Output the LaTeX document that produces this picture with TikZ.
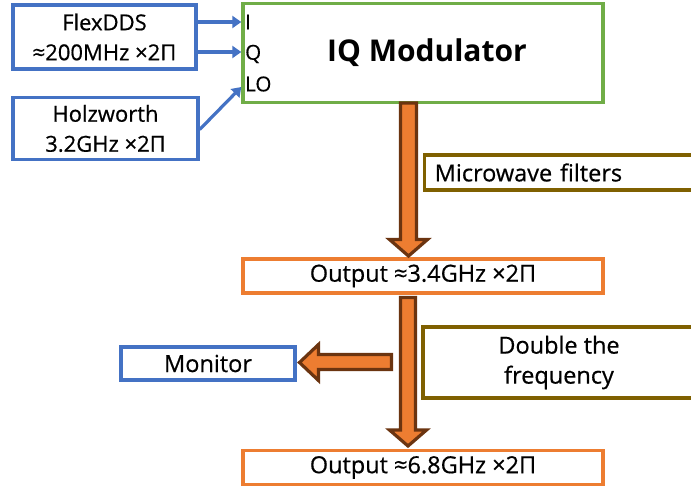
\documentclass[tikz,border=0pt]{standalone}
\usepackage{fontspec}
\setmainfont{Open Sans}[FakeBold=0.6]
\newfontfamily\boldfam{Open Sans}[UprightFont={* Bold}]
\usetikzlibrary{arrows.meta}
\definecolor{myblue}{HTML}{4472C4}
\definecolor{mygreen}{HTML}{70AD47}
\definecolor{myorange}{HTML}{ED7D31}
\definecolor{mybrown}{HTML}{6B3410}
\definecolor{myolive}{HTML}{7F6000}
\begin{document}
\begin{tikzpicture}[x=1pt,y=-1pt,
  box/.style={draw, line width=3.4pt, fill=white, inner sep=0pt, align=center,
    font=\fontsize{23.5}{30}\selectfont},
  bluebox/.style={box, draw=myblue},
  greenbox/.style={box, draw=mygreen},
  orangebox/.style={box, draw=myorange},
  olivebox/.style={box, draw=myolive},
  port/.style={anchor=west, inner sep=0pt, font=\fontsize{20.5}{22}\selectfont},
  sig/.style={draw=myblue, line width=3.2pt, -{Triangle[length=9pt,width=12pt]}},
  blockarrow/.style={fill=myorange, draw=mybrown, line width=3.2pt, line join=miter}]
\useasboundingbox (0,0) rectangle (691,487);
\fill[white] (0,0) rectangle (691,487);
\begin{scope}
\clip (0,0) rectangle (691,487);
% boxes
\node[bluebox, minimum width=183pt, minimum height=64pt, font=\fontsize{22}{30}\selectfont] (fd) at (104.5,37) {FlexDDS\\≈200MHz ×2Π};
\node[bluebox, minimum width=185pt, minimum height=62pt, font=\fontsize{22}{30}\selectfont] (hz) at (105.5,128.5) {Holzworth\\3.2GHz ×2Π};
\node[greenbox, minimum width=360pt, minimum height=99pt, font=\fontsize{30}{36}\boldfam] (iq) at (423,53) {\hspace*{8pt}IQ Modulator};
\node[port] (pi) at (245,22) {I};
\node[port] (pq) at (245,54) {Q};
\node[port] (plo) at (245,84) {LO};
\node[olivebox, minimum width=272pt, minimum height=35pt, anchor=west, text width=252pt, align=left, inner xsep=10pt] (mw) at (423,172.5) {Microwave filters};
\node[orangebox, minimum width=360pt, minimum height=34pt] (o1) at (423,276) {Output ≈3.4GHz ×2Π};
\node[olivebox, minimum width=272pt, minimum height=71pt] (dbl) at (559,362.5) {Double the\\frequency};
\node[bluebox, minimum width=174pt, minimum height=33pt] (mon) at (208,363.5) {Monitor};
\node[orangebox, minimum width=360pt, minimum height=34pt] (o2) at (423,467.5) {Output ≈6.8GHz ×2Π};
% signal arrows
\coordinate (iI) at (iq.west |- 0,22);
\coordinate (iQ) at (iq.west |- 0,52);
\coordinate (iLO) at (iq.west |- 0,87);
\draw[sig] (fd.east |- iI) -- (iI);
\draw[sig] (fd.east |- iQ) -- (iQ);
\draw[sig] ([yshift=-1pt]hz.east) -- (iLO);
% block arrows
\draw[blockarrow] (400.5,103) -- (400.5,239.5) -- (389.5,239.5) -- (408.5,256) -- (427.5,239.5) -- (416.5,239.5) -- (416.5,103) -- cycle;
\draw[blockarrow] (400.5,297.5) -- (400.5,430) -- (389.5,430) -- (408,446) -- (426.5,430) -- (415.5,430) -- (415.5,297.5) -- cycle;
\draw[blockarrow] (391.5,354.5) -- (318.5,354.5) -- (318.5,344.5) -- (299.5,362.5) -- (318.5,380.5) -- (318.5,369.5) -- (391.5,369.5) -- cycle;
\end{scope}
\end{tikzpicture}
\end{document}
